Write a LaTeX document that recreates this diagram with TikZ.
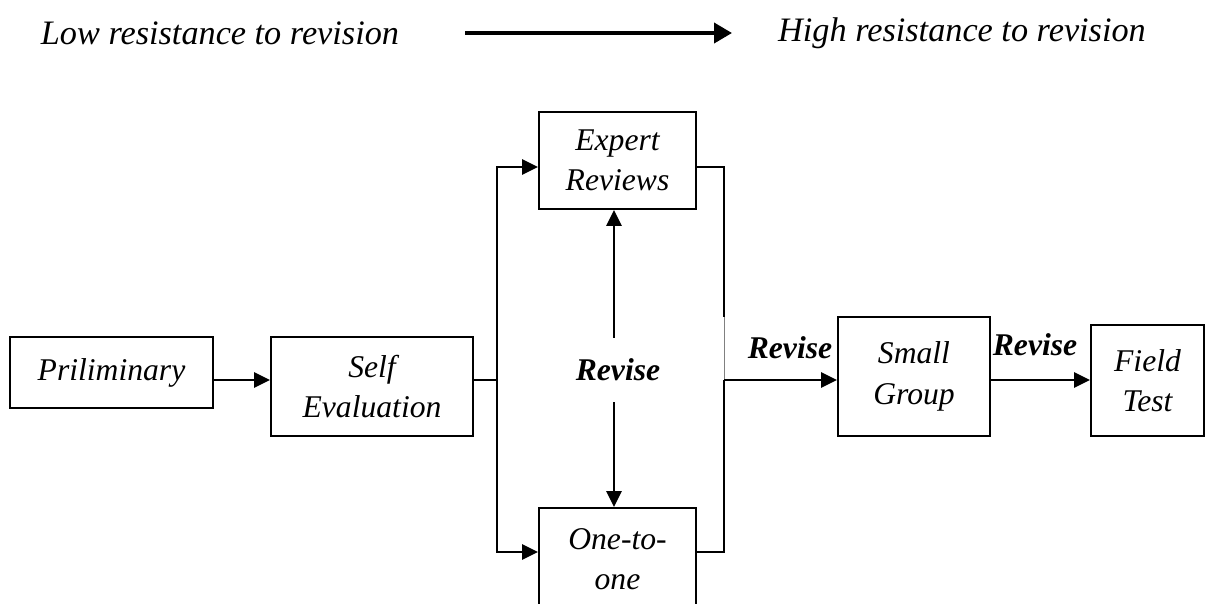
\documentclass[tikz,border=0pt]{standalone}
\usepackage{fontspec}
\setmainfont{Liberation Serif}
\usetikzlibrary{arrows.meta}

\tikzset{
    stage/.style={draw,line width=1.1pt,inner sep=0pt,align=center,
        font=\fontsize{18}{23}\selectfont\itshape},
    revlabel/.style={inner sep=0pt,font=\fontsize{18}{23}\selectfont\bfseries\itshape},
    link/.style={line width=1.3pt},
    flow/.style={line width=1.6pt,->}
}

\begin{document}
\begin{tikzpicture}[x=0.02cm,y=-0.02cm,>={Triangle[length=0.32cm,width=0.3cm]}]
        \useasboundingbox (0,0) rectangle (1206,603);
        \node (low) at (220,33) [font=\fontsize{19.5}{23}\selectfont\itshape]{Low resistance to revision};
        \node (high) at (962,33) [font=\fontsize{19.5}{23}\selectfont\itshape]{High resistance to revision};
        \draw [line width=2.2pt,-{Triangle[length=0.36cm,width=0.4cm]}] (465,33) -- (732,33);

        \node (pre) at (111.5,372.5) [stage,minimum width=4.06cm,minimum height=1.42cm]{Priliminary};
        \node (self) at (372,386.5) [stage,minimum width=4.04cm,minimum height=1.98cm]{Self\\Evaluation};
        \node (exp) at (617.5,160.5) [stage,minimum width=3.14cm,minimum height=1.94cm]{Expert\\Reviews};
        \node (one) at (617.5,559) [stage,minimum width=3.14cm,minimum height=2.04cm]{One-to-\\one};
        \node (small) at (914,376.5) [stage,minimum width=3.04cm,minimum height=2.38cm]{Small\\Group};
        \node (field) at (1147.5,380.5) [stage,minimum width=2.26cm,minimum height=2.22cm]{Field\\Test};

        \node (rev) at (618,370) [revlabel,minimum height=1.28cm]{Revise};
        \node (rev1) at (790,348) [revlabel]{Revise};
        \node (rev2) at (1035,345) [revlabel]{Revise};

        \coordinate (mid) at (0,380);
        \coordinate (hi) at (0,167);
        \coordinate (lo) at (0,552);
        \coordinate (sl) at (497,380);
        \coordinate (sr) at (724,380);
        \coordinate (gap) at (724,317);

        \draw [flow] (pre.east |- mid) -- (self.west |- mid);
        \draw [link] (self.east |- mid) -- (sl);
        \draw [flow] (sl) |- (exp.west |- hi);
        \draw [flow] (sl) |- (one.west |- lo);
        \draw [link] (exp.east |- hi) -| (gap);
        \draw [gray,line width=0.5pt] (gap) -- (sr);
        \draw [link] (one.east |- lo) -| (sr);
        \draw [flow] (sr) -- (small.west |- mid);
        \draw [flow] (small.east |- mid) -- (field.west |- mid);
        \draw [flow] (rev.north -| 614,0) -- (exp.south -| 614,0);
        \draw [flow] (rev.south -| 614,0) -- (one.north -| 614,0);

        \end{tikzpicture}
\end{document}
